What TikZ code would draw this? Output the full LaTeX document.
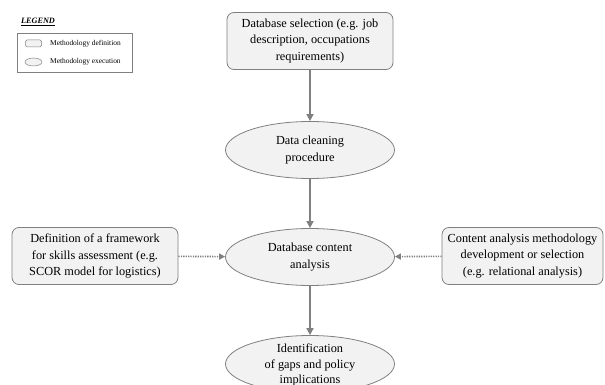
\documentclass[tikz,border=0pt]{standalone}
\usepackage{fontspec}
\setmainfont{Liberation Serif}
\usepackage{xcolor}
\usepackage{tikz}
\usetikzlibrary{positioning,arrows.meta,shapes.geometric}
\definecolor{boxfill}{HTML}{F2F2F2}
\definecolor{boxline}{HTML}{808080}
\tikzset{
  defbox/.style={rectangle, rounded corners=7pt, fill=boxfill, draw=boxline, line width=0.8pt,
    minimum width=166pt, minimum height=57pt, align=center, font=\fontsize{12.3}{16.7}\selectfont},
  exec/.style={ellipse, fill=boxfill, draw=boxline, line width=0.8pt,
    minimum width=169pt, minimum height=57pt, inner sep=0pt, align=center, font=\fontsize{12.3}{16.7}\selectfont},
  txt/.style={align=center, inner sep=0pt, font=\fontsize{12.3}{15.8}\selectfont},
  flow/.style={draw=boxline, line width=1.6pt, -{Triangle[length=7pt,width=7pt]}},
  side/.style={draw=boxline, line width=1.6pt, dash pattern=on 1.3pt off 1.1pt, -{Triangle[length=6pt,width=6pt]}},
  legbox/.style={draw=boxline, line width=0.5pt, fill=white},
  leglbl/.style={anchor=west, inner sep=0pt, font=\fontsize{7.4}{8}\selectfont}
}
\begin{document}
\begin{tikzpicture}[x=1pt, y=-1pt]
  \useasboundingbox (0,0) rectangle (605,385);
  \clip (0,0) rectangle (605,385);
  % legend
  \node[inner sep=0pt, anchor=west, font=\fontsize{8.2}{9}\selectfont] (legt) at (21,22) {\underline{\textbf{\textit{LEGEND}}}};
  \node[legbox, minimum width=115pt, minimum height=39pt, anchor=north west] (leg) at (17,33) {};
  \node[rectangle, rounded corners=1.5pt, fill=boxfill, draw=boxline, line width=0.5pt,
    minimum width=16pt, minimum height=7pt, inner sep=0pt] (legdef) at (33.5,43.5) {};
  \node[ellipse, fill=boxfill, draw=boxline, line width=0.5pt,
    minimum width=17pt, minimum height=8pt, inner sep=0pt] (legexec) at (33.5,62) {};
  \node[leglbl] (legdeft) at (50,44) {Methodology definition};
  \node[leglbl] (legexect) at (50,62) {Methodology execution};
  % flow
  \node[defbox] (dbsel) at (310,41) {Database selection (e.g. job\\description, occupations\\requirements)};
  \node[exec] (clean) at (310,150) {Data cleaning\\procedure};
  \node[exec] (content) at (310,257) {Database content\\analysis};
  \node[exec] (gaps) at (310,364) {};
  \node[txt] (gapst) at (310,365) {Identification\\of gaps and policy\\implications};
  \node[defbox] (frame) at (95,256) {Definition of a framework\\for skills assessment (e.g.\\SCOR model for logistics)};
  \node[defbox, minimum width=161pt] (method) at (522.5,256) {Content analysis methodology\\development or selection\\(e.g. relational analysis)};
  \draw[flow] (dbsel) -- (clean);
  \draw[flow] (clean) -- (content);
  \draw[flow] (content) -- (gaps);
  \draw[side] (frame) -- (content);
  \draw[side] (method) -- (content);
\end{tikzpicture}
\end{document}
